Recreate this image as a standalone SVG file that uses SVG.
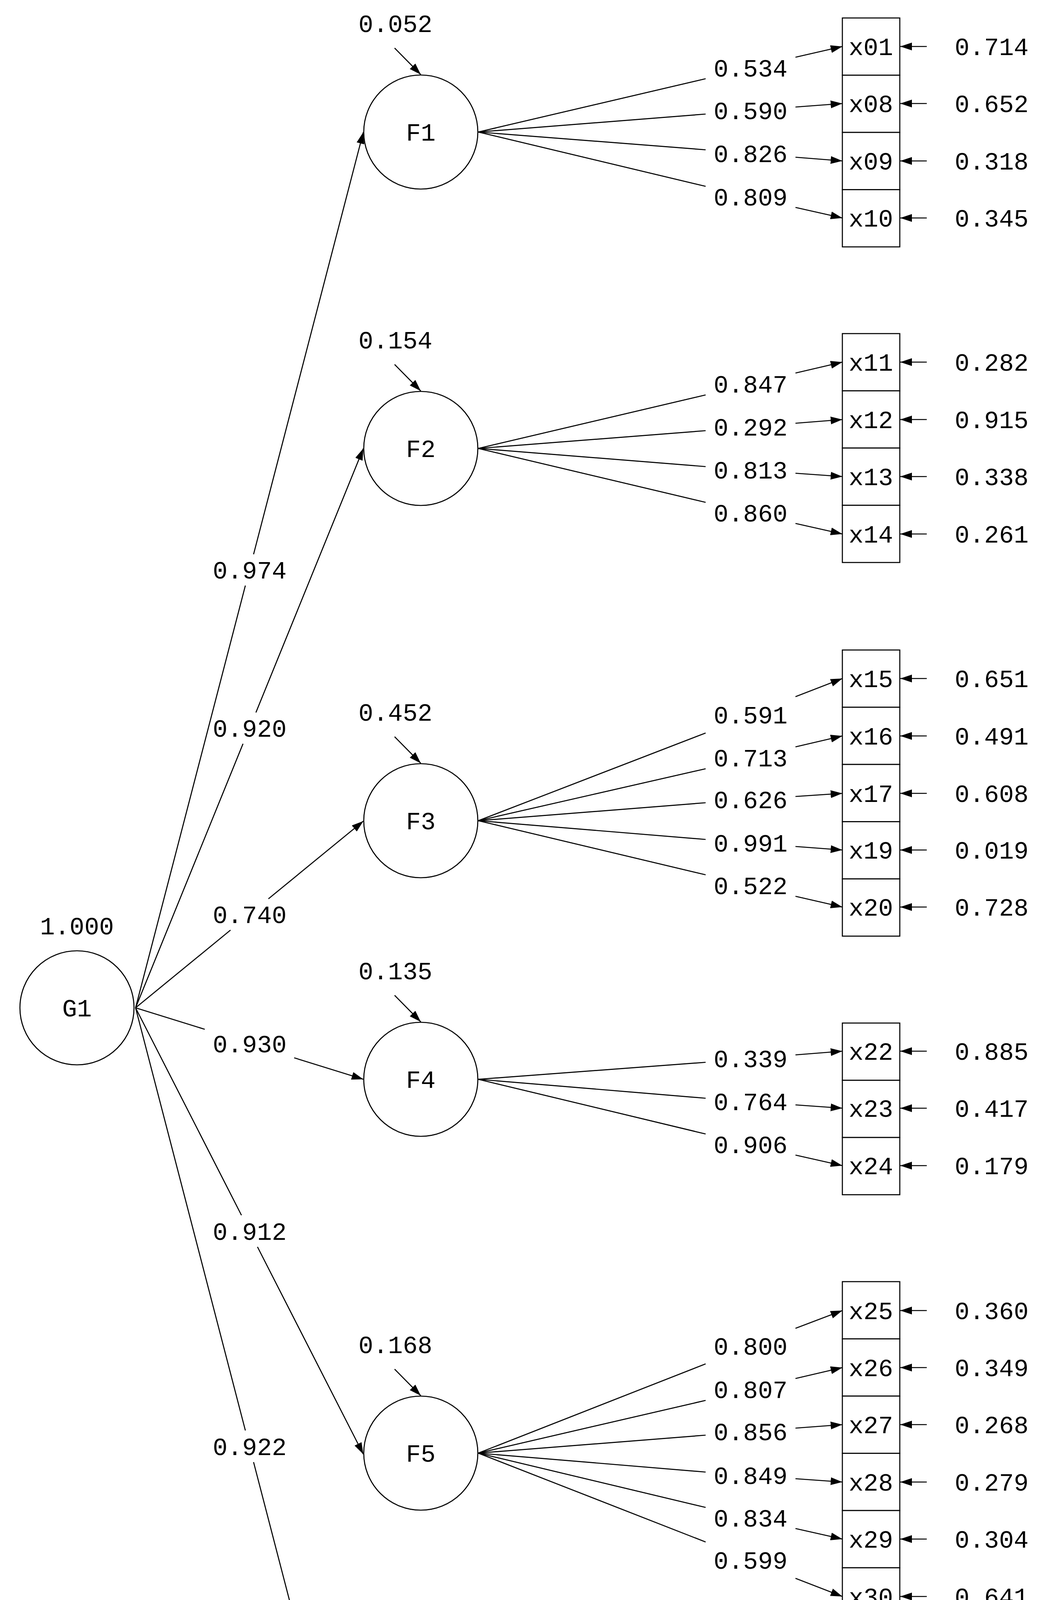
<svg xmlns="http://www.w3.org/2000/svg" width="2690" height="5142" viewBox="0 0 2690 5142">
<defs>
<marker id="ah" viewBox="0 0 30 20" refX="30" refY="10" markerWidth="30" markerHeight="20" markerUnits="userSpaceOnUse" orient="auto"><path d="M0,0 L30,10 L0,20 Z" fill="#000"/></marker>
</defs>
<style>
text{font-family:"Liberation Mono","DejaVu Sans Mono",monospace;font-size:63px;fill:#000;text-anchor:middle}
circle,rect.n{fill:#fff;stroke:#000;stroke-width:2.7}
.c path{fill:none;stroke:#000;stroke-width:2.7}
.c path.a{marker-end:url(#ah)}
</style>
<rect x="0" y="0" width="2690" height="5142" fill="#fff"/>
<g class="c" id="connectors">
<path d="M347,2580 L628,1499"/><path class="a" d="M649,1419 L930,338"/>
<path d="M347,2580 L622,1904"/><path class="a" d="M655,1824 L930,1148"/>
<path d="M347,2580 L590,2381"/><path class="a" d="M687,2301 L930,2102"/>
<path d="M347,2580 L524,2635"/><path class="a" d="M753,2708 L930,2763"/>
<path d="M347,2580 L618,3111"/><path class="a" d="M659,3192 L930,3723"/>
<path d="M347,2580 L628,3662"/><path class="a" d="M649,3743 L930,4825"/>
<path class="a" d="M1010,123 L1077,191"/>
<path class="a" d="M1010,933 L1077,1001"/>
<path class="a" d="M1010,1886 L1077,1954"/>
<path class="a" d="M1010,2548 L1077,2616"/>
<path class="a" d="M1010,3505 L1077,3573"/>
<path class="a" d="M1010,4609 L1077,4677"/>
<path d="M1224,338 L1806,201.5"/><path class="a" d="M2036,146.5 L2156,119"/>
<path d="M1224,338 L1806,292"/><path class="a" d="M2036,274 L2156,265"/>
<path d="M1224,338 L1806,383.5"/><path class="a" d="M2036,402.5 L2156,412"/>
<path d="M1224,338 L1806,477"/><path class="a" d="M2036,531 L2156,558"/>
<path d="M1224,1148 L1806,1011"/><path class="a" d="M2036,955 L2156,927"/>
<path d="M1224,1148 L1806,1102.5"/><path class="a" d="M2036,1083.5 L2156,1074"/>
<path d="M1224,1148 L1806,1194.5"/><path class="a" d="M2036,1211.5 L2156,1220"/>
<path d="M1224,1148 L1806,1286"/><path class="a" d="M2036,1340 L2156,1367"/>
<path d="M1224,2101 L1806,1876.5"/><path class="a" d="M2036,1783.5 L2156,1737"/>
<path d="M1224,2101 L1806,1968"/><path class="a" d="M2036,1912 L2156,1884"/>
<path d="M1224,2101 L1806,2055"/><path class="a" d="M2036,2039 L2156,2031"/>
<path d="M1224,2101 L1806,2149"/><path class="a" d="M2036,2167 L2156,2176"/>
<path d="M1224,2101 L1806,2239.5"/><path class="a" d="M2036,2294.5 L2156,2322"/>
<path d="M1224,2763 L1806,2719.5"/><path class="a" d="M2036,2700.5 L2156,2691"/>
<path d="M1224,2763 L1806,2811.5"/><path class="a" d="M2036,2828.5 L2156,2837"/>
<path d="M1224,2763 L1806,2903"/><path class="a" d="M2036,2957 L2156,2984"/>
<path d="M1224,3720 L1806,3491.5"/><path class="a" d="M2036,3400.5 L2156,3355"/>
<path d="M1224,3720 L1806,3585"/><path class="a" d="M2036,3529 L2156,3501"/>
<path d="M1224,3720 L1806,3674"/><path class="a" d="M2036,3656 L2156,3647"/>
<path d="M1224,3720 L1806,3768.5"/><path class="a" d="M2036,3785.5 L2156,3794"/>
<path d="M1224,3720 L1806,3859"/><path class="a" d="M2036,3913 L2156,3940"/>
<path d="M1224,3720 L1806,3947.5"/><path class="a" d="M2036,4040.5 L2156,4087"/>
<path d="M1224,4824 L1806,4594"/><path class="a" d="M2036,4502 L2156,4456"/>
<path d="M1224,4824 L1806,4687"/><path class="a" d="M2036,4631 L2156,4603"/>
<path d="M1224,4824 L1806,4775.5"/><path class="a" d="M2036,4758.5 L2156,4750"/>
<path d="M1224,4824 L1806,4867"/><path class="a" d="M2036,4887 L2156,4897"/>
<path d="M1224,4824 L1806,4960.5"/><path class="a" d="M2036,5015.5 L2156,5043"/>
<path class="a" d="M2372,119 L2304,119"/><path class="a" d="M2372,265 L2304,265"/><path class="a" d="M2372,412 L2304,412"/><path class="a" d="M2372,558 L2304,558"/>
<path class="a" d="M2372,927 L2304,927"/><path class="a" d="M2372,1074 L2304,1074"/><path class="a" d="M2372,1220 L2304,1220"/><path class="a" d="M2372,1367 L2304,1367"/>
<path class="a" d="M2372,1737 L2304,1737"/><path class="a" d="M2372,1884 L2304,1884"/><path class="a" d="M2372,2031 L2304,2031"/><path class="a" d="M2372,2176 L2304,2176"/><path class="a" d="M2372,2322 L2304,2322"/>
<path class="a" d="M2372,2691 L2304,2691"/><path class="a" d="M2372,2837 L2304,2837"/><path class="a" d="M2372,2984 L2304,2984"/>
<path class="a" d="M2372,3355 L2304,3355"/><path class="a" d="M2372,3501 L2304,3501"/><path class="a" d="M2372,3647 L2304,3647"/><path class="a" d="M2372,3794 L2304,3794"/><path class="a" d="M2372,3940 L2304,3940"/><path class="a" d="M2372,4087 L2304,4087"/>
<path class="a" d="M2372,4456 L2304,4456"/><path class="a" d="M2372,4603 L2304,4603"/><path class="a" d="M2372,4750 L2304,4750"/><path class="a" d="M2372,4897 L2304,4897"/><path class="a" d="M2372,5043 L2304,5043"/>
</g>
<g id="edge-labels">
<text x="639" y="1481">0.974</text><text x="639" y="1886">0.920</text><text x="639" y="2363">0.740</text><text x="639" y="2694">0.930</text><text x="639" y="3174">0.912</text><text x="639" y="3725">0.922</text>
<text x="1921" y="196">0.534</text><text x="1921" y="305">0.590</text><text x="1921" y="415">0.826</text><text x="1921" y="526">0.809</text>
<text x="1921" y="1005">0.847</text><text x="1921" y="1115">0.292</text><text x="1921" y="1225">0.813</text><text x="1921" y="1335">0.860</text>
<text x="1921" y="1852">0.591</text><text x="1921" y="1962">0.713</text><text x="1921" y="2069">0.626</text><text x="1921" y="2180">0.991</text><text x="1921" y="2289">0.522</text>
<text x="1921" y="2732">0.339</text><text x="1921" y="2842">0.764</text><text x="1921" y="2952">0.906</text>
<text x="1921" y="3468">0.800</text><text x="1921" y="3579">0.807</text><text x="1921" y="3687">0.856</text><text x="1921" y="3799">0.849</text><text x="1921" y="3908">0.834</text><text x="1921" y="4016">0.599</text>
<text x="1921" y="4570">0.907</text><text x="1921" y="4681">0.880</text><text x="1921" y="4789">0.830</text><text x="1921" y="4899">0.527</text><text x="1921" y="5010">0.740</text>
</g>
<g id="G1"><circle cx="197" cy="2580" r="146"/><text x="197" y="2602">G1</text><text x="197" y="2392">1.000</text></g>
<g id="F1"><circle cx="1077" cy="338" r="146"/><text x="1077" y="360">F1</text><text x="1012" y="82">0.052</text></g>
<g id="F2"><circle cx="1077" cy="1148" r="146"/><text x="1077" y="1170">F2</text><text x="1012" y="892">0.154</text></g>
<g id="F3"><circle cx="1077" cy="2101" r="146"/><text x="1077" y="2123">F3</text><text x="1012" y="1845">0.452</text></g>
<g id="F4"><circle cx="1077" cy="2763" r="146"/><text x="1077" y="2785">F4</text><text x="1012" y="2507">0.135</text></g>
<g id="F5"><circle cx="1077" cy="3720" r="146"/><text x="1077" y="3742">F5</text><text x="1012" y="3464">0.168</text></g>
<g id="F6"><circle cx="1077" cy="4824" r="146"/><text x="1077" y="4846">F6</text><text x="1012" y="4568">0.150</text></g>
<g id="items">
<g id="x01"><rect class="n" x="2156" y="46" width="147" height="146.5"/><text x="2229" y="141">x01</text><text x="2538" y="141">0.714</text></g>
<g id="x08"><rect class="n" x="2156" y="192.5" width="147" height="146.5"/><text x="2229" y="287">x08</text><text x="2538" y="287">0.652</text></g>
<g id="x09"><rect class="n" x="2156" y="339" width="147" height="146.5"/><text x="2229" y="434">x09</text><text x="2538" y="434">0.318</text></g>
<g id="x10"><rect class="n" x="2156" y="485.5" width="147" height="146.5"/><text x="2229" y="580">x10</text><text x="2538" y="580">0.345</text></g>
<g id="x11"><rect class="n" x="2156" y="854" width="147" height="146.5"/><text x="2229" y="949">x11</text><text x="2538" y="949">0.282</text></g>
<g id="x12"><rect class="n" x="2156" y="1000.5" width="147" height="146.5"/><text x="2229" y="1096">x12</text><text x="2538" y="1096">0.915</text></g>
<g id="x13"><rect class="n" x="2156" y="1147" width="147" height="146.5"/><text x="2229" y="1242">x13</text><text x="2538" y="1242">0.338</text></g>
<g id="x14"><rect class="n" x="2156" y="1293.5" width="147" height="146.5"/><text x="2229" y="1389">x14</text><text x="2538" y="1389">0.261</text></g>
<g id="x15"><rect class="n" x="2156" y="1664" width="147" height="146.5"/><text x="2229" y="1759">x15</text><text x="2538" y="1759">0.651</text></g>
<g id="x16"><rect class="n" x="2156" y="1810.5" width="147" height="146.5"/><text x="2229" y="1906">x16</text><text x="2538" y="1906">0.491</text></g>
<g id="x17"><rect class="n" x="2156" y="1957" width="147" height="146.5"/><text x="2229" y="2053">x17</text><text x="2538" y="2053">0.608</text></g>
<g id="x19"><rect class="n" x="2156" y="2103.5" width="147" height="146.5"/><text x="2229" y="2198">x19</text><text x="2538" y="2198">0.019</text></g>
<g id="x20"><rect class="n" x="2156" y="2250" width="147" height="146.5"/><text x="2229" y="2344">x20</text><text x="2538" y="2344">0.728</text></g>
<g id="x22"><rect class="n" x="2156" y="2619" width="147" height="146.5"/><text x="2229" y="2713">x22</text><text x="2538" y="2713">0.885</text></g>
<g id="x23"><rect class="n" x="2156" y="2765.5" width="147" height="146.5"/><text x="2229" y="2859">x23</text><text x="2538" y="2859">0.417</text></g>
<g id="x24"><rect class="n" x="2156" y="2912" width="147" height="146.5"/><text x="2229" y="3006">x24</text><text x="2538" y="3006">0.179</text></g>
<g id="x25"><rect class="n" x="2156" y="3281" width="147" height="146.5"/><text x="2229" y="3377">x25</text><text x="2538" y="3377">0.360</text></g>
<g id="x26"><rect class="n" x="2156" y="3427.5" width="147" height="146.5"/><text x="2229" y="3523">x26</text><text x="2538" y="3523">0.349</text></g>
<g id="x27"><rect class="n" x="2156" y="3574" width="147" height="146.5"/><text x="2229" y="3669">x27</text><text x="2538" y="3669">0.268</text></g>
<g id="x28"><rect class="n" x="2156" y="3720.5" width="147" height="146.5"/><text x="2229" y="3816">x28</text><text x="2538" y="3816">0.279</text></g>
<g id="x29"><rect class="n" x="2156" y="3867" width="147" height="146.5"/><text x="2229" y="3962">x29</text><text x="2538" y="3962">0.304</text></g>
<g id="x30"><rect class="n" x="2156" y="4013.5" width="147" height="146.5"/><text x="2229" y="4109">x30</text><text x="2538" y="4109">0.641</text></g>
<g id="x31"><rect class="n" x="2156" y="4383" width="147" height="146.5"/><text x="2229" y="4478">x31</text><text x="2538" y="4478">0.177</text></g>
<g id="x32"><rect class="n" x="2156" y="4529.5" width="147" height="146.5"/><text x="2229" y="4625">x32</text><text x="2538" y="4625">0.226</text></g>
<g id="x34"><rect class="n" x="2156" y="4676" width="147" height="146.5"/><text x="2229" y="4772">x34</text><text x="2538" y="4772">0.311</text></g>
<g id="x35"><rect class="n" x="2156" y="4822.5" width="147" height="146.5"/><text x="2229" y="4919">x35</text><text x="2538" y="4919">0.723</text></g>
<g id="x36"><rect class="n" x="2156" y="4969" width="147" height="146.5"/><text x="2229" y="5065">x36</text><text x="2538" y="5065">0.452</text></g>
</g>
</svg>
